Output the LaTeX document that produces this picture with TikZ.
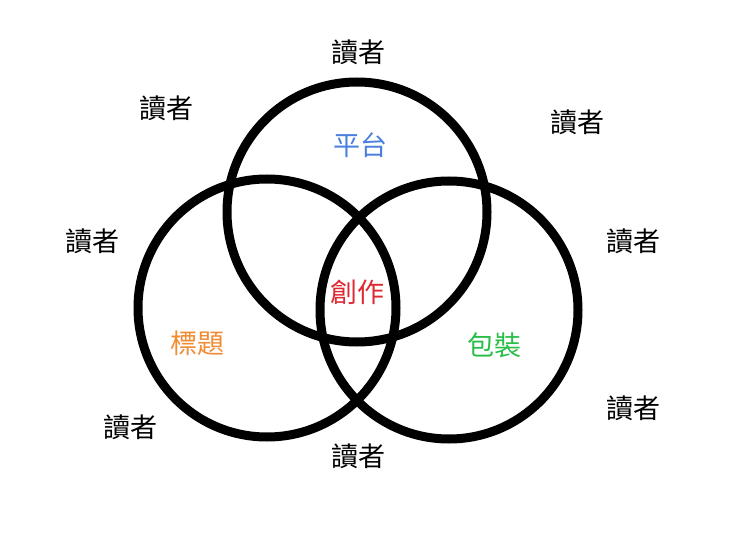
\documentclass[tikz,border=0pt]{standalone}
\usepackage{fontspec}
\newfontfamily\cjk{Noto Sans CJK TC}
\definecolor{cblue}{RGB}{74,128,222}
\definecolor{cred}{RGB}{222,40,50}
\definecolor{corange}{RGB}{242,140,52}
\definecolor{cgreen}{RGB}{40,190,72}
\tikzset{ring/.style={draw=black,line width=9pt},
lbl/.style={font=\cjk\fontsize{27}{27}\selectfont,inner sep=0pt}}
\begin{document}
\begin{tikzpicture}[x=1pt,y=-1pt]
\useasboundingbox[fill=white] (0,0) rectangle (740,551);
\draw[ring] (357,212) circle[radius=130];
\draw[ring] (267,308) circle[radius=129];
\draw[ring] (449,310) circle[radius=129];
\node[lbl] (r1) at (358,52) {讀者};
\node[lbl] (r2) at (166,108) {讀者};
\node[lbl] (r3) at (577,122) {讀者};
\node[lbl] (r4) at (92,241) {讀者};
\node[lbl] (r5) at (633,241) {讀者};
\node[lbl] (r6) at (130,427) {讀者};
\node[lbl] (r7) at (358,456) {讀者};
\node[lbl] (r8) at (633,408) {讀者};
\node[lbl,text=cblue] (p) at (360,145) {平台};
\node[lbl,text=cred] (c) at (357,292) {創作};
\node[lbl,text=corange] (t) at (197,343) {標題};
\node[lbl,text=cgreen] (b) at (494,345) {包裝};
\end{tikzpicture}
\end{document}
